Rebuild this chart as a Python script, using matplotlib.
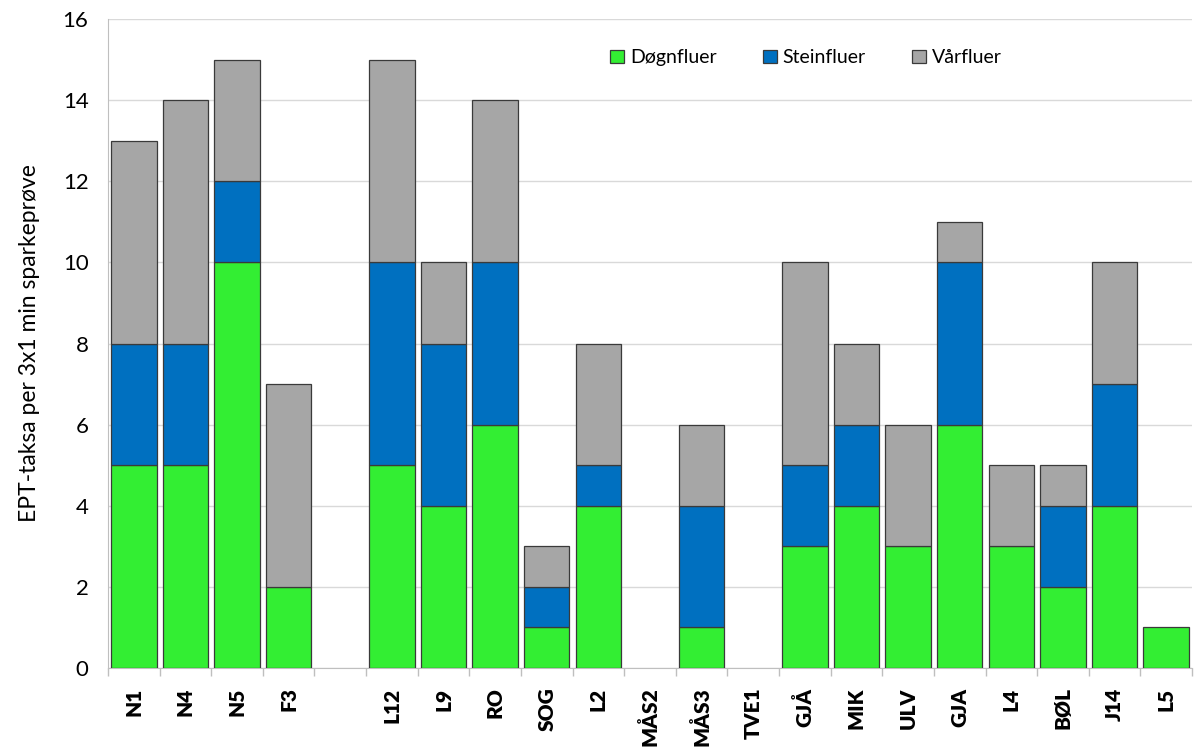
import matplotlib
matplotlib.use("Agg")
import matplotlib.pyplot as plt
import numpy as np

categories = ["N1", "N4", "N5", "F3", "", "L12", "L9", "RO", "SOG", "L2", "MÅS2",
              "MÅS3", "TVE1", "GJÅ", "MIK", "ULV", "GJA", "L4", "BØL", "J14", "L5"]
dognfluer = [5, 5, 10, 2, 0, 5, 4, 6, 1, 4, 0, 1, 0, 3, 4, 3, 6, 3, 2, 4, 1]
steinfluer = [3, 3, 2, 0, 0, 5, 4, 4, 1, 1, 0, 3, 0, 2, 2, 0, 4, 0, 2, 3, 0]
varfluer = [5, 6, 3, 5, 0, 5, 2, 4, 1, 3, 0, 2, 0, 5, 2, 3, 1, 2, 1, 3, 0]
series_names = ["Døgnfluer", "Steinfluer", "Vårfluer"]
colors = ["#33EE33", "#0070C0", "#A6A6A6"]

plt.rcParams['font.family'] = ['Lato', 'DejaVu Sans']

fig = plt.figure(figsize=(11.94, 7.51), dpi=100)
ax = fig.add_axes([108/1194, 1-668/751, (1192-108)/1194, (668-19)/751])

x = np.arange(len(categories))
d = np.array(dognfluer); s = np.array(steinfluer); v = np.array(varfluer)
w = 0.88
kw = dict(width=w, edgecolor="#3a3a3a", linewidth=0.9, zorder=3)
bottom = np.zeros(len(categories))
for vals, col, name in zip([d, s, v], colors, series_names):
    m = vals > 0
    ax.bar(x[m], vals[m], bottom=bottom[m], color=col, label=name, **kw)
    bottom = bottom + vals

ax.set_xlim(-0.5, len(categories)-0.5)
ax.set_ylim(0, 16)
ax.set_yticks(range(0, 17, 2))
ax.tick_params(axis='y', length=0, labelsize=16, pad=14)
ax.yaxis.grid(True, color="#D9D9D9", linewidth=1, zorder=0)

ax.set_xticks(x)
ax.set_xticklabels(categories, rotation=90, fontweight='heavy', fontsize=15)
ax.tick_params(axis='x', which='major', length=0, pad=14)
ax.set_xticks(np.arange(-0.5, len(categories), 1), minor=True)
ax.tick_params(axis='x', which='minor', length=6, color="#BFBFBF", width=1)

for sp in ["top", "right"]:
    ax.spines[sp].set_visible(False)
ax.spines["left"].set_color("#BFBFBF")
ax.spines["bottom"].set_color("#BFBFBF")

ax.set_ylabel("EPT-taksa per 3x1 min sparkeprøve", fontsize=16.5, labelpad=16)

ax.legend(loc="center", bbox_to_anchor=(0.644, 0.94), ncol=3, frameon=False,
          fontsize=14, handlelength=0.7, handleheight=0.7, handletextpad=0.3,
          columnspacing=2.4)

fig.savefig("out.png", dpi=100, facecolor="white")
